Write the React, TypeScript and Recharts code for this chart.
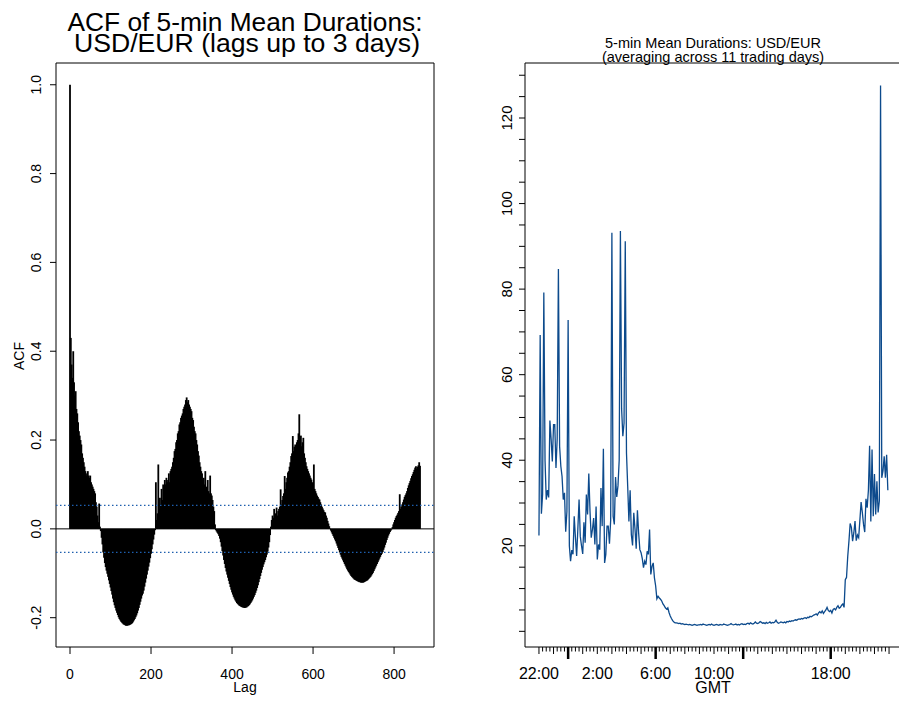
import { BarChart, Bar, LineChart, Line, XAxis, YAxis, ReferenceLine, ReferenceArea } from "recharts";

// ACF of 5-min mean durations, every 2nd lag
const acfDecay = [
  1.0, 0.43, 0.37, 0.34, 0.4, 0.33, 0.3, 0.31, 0.27, 0.26, 0.24, 0.22, 0.21, 0.2, 0.19, 0.17, 0.16, 0.15, 0.14,
  0.13, 0.12, 0.125, 0.13, 0.12, 0.115, 0.12, 0.105, 0.1, 0.095, 0.09, 0.085, 0.08, 0.06, 0.05, 0.03, 0.015, 0.057,
  0.005,
];
const acfTrough1 = [
  -0.005, -0.02, -0.035, -0.053, -0.065, -0.077, -0.086, -0.094, -0.101, -0.108,
  -0.116, -0.124, -0.132, -0.14, -0.148, -0.157, -0.165, -0.172, -0.178, -0.184,
  -0.189, -0.194, -0.199, -0.203, -0.206, -0.209, -0.211, -0.213, -0.215, -0.216,
  -0.217, -0.218, -0.218, -0.218, -0.217, -0.217, -0.216, -0.215, -0.214, -0.212,
  -0.209, -0.206, -0.203, -0.199, -0.195, -0.19, -0.184, -0.178, -0.171, -0.164,
  -0.157, -0.15, -0.146, -0.139, -0.13, -0.121, -0.112, -0.103, -0.094, -0.085,
  -0.076, -0.066, -0.056, -0.046, -0.035, -0.024, -0.013, -0.003,
];
const acfHump2 = [
  0.105, 0.02, 0.035, 0.145, 0.045, 0.07, 0.055, 0.09, 0.065, 0.1,
  0.085, 0.11, 0.1, 0.115, 0.105, 0.11, 0.125, 0.105, 0.13, 0.135,
  0.14, 0.15, 0.16, 0.175, 0.18, 0.195, 0.2, 0.215, 0.22, 0.235,
  0.24, 0.25, 0.255, 0.26, 0.27, 0.275, 0.28, 0.29, 0.296, 0.285,
  0.29, 0.28, 0.275, 0.27, 0.265, 0.25, 0.245, 0.23, 0.22, 0.215,
  0.2, 0.19, 0.175, 0.165, 0.15, 0.14, 0.13, 0.125, 0.11, 0.115,
  0.1, 0.13, 0.095, 0.09, 0.11, 0.085, 0.08, 0.12, 0.08, 0.075,
  0.065, 0.05, 0.04, 0.01,
];
const acfTrough2 = [
  -0.003, -0.006, -0.009, -0.012, -0.016, -0.022, -0.03, -0.04, -0.05, -0.06,
  -0.07, -0.079, -0.088, -0.096, -0.103, -0.11, -0.117, -0.124, -0.131, -0.137,
  -0.143, -0.148, -0.153, -0.157, -0.161, -0.164, -0.167, -0.169, -0.171, -0.173,
  -0.174, -0.175, -0.176, -0.177, -0.177, -0.178, -0.178, -0.177, -0.177, -0.175,
  -0.174, -0.172, -0.17, -0.167, -0.164, -0.161, -0.157, -0.153, -0.149, -0.144,
  -0.139, -0.133, -0.127, -0.12, -0.113, -0.106, -0.099, -0.092, -0.086, -0.08,
  -0.075, -0.07, -0.064, -0.058, -0.051, -0.042, -0.03, -0.014,
];
const acfHump3 = [
  0.005, 0.02, 0.03, 0.025, 0.045, 0.03, 0.035, 0.048, 0.03, 0.04,
  0.045, 0.05, 0.089, 0.055, 0.065, 0.074, 0.08, 0.119, 0.09, 0.105,
  0.115, 0.127, 0.13, 0.14, 0.15, 0.164, 0.17, 0.209, 0.175, 0.185,
  0.19, 0.18, 0.195, 0.2, 0.215, 0.258, 0.2, 0.21, 0.186, 0.195,
  0.205, 0.17, 0.16, 0.15, 0.141, 0.135, 0.13, 0.125, 0.12, 0.115,
  0.111, 0.105, 0.1, 0.145, 0.09, 0.085, 0.08, 0.075, 0.072, 0.068,
  0.066, 0.06, 0.055, 0.05, 0.046, 0.042, 0.038, 0.037, 0.03, 0.025,
  0.018, 0.012, 0.006, 0.001,
];
const acfTrough3 = [
  -0.004, -0.008, -0.012, -0.016, -0.02, -0.024, -0.028, -0.033, -0.038, -0.043,
  -0.048, -0.053, -0.058, -0.063, -0.067, -0.071, -0.075, -0.079, -0.083, -0.087,
  -0.091, -0.094, -0.097, -0.1, -0.103, -0.106, -0.108, -0.11, -0.112, -0.114,
  -0.115, -0.116, -0.117, -0.118, -0.119, -0.12, -0.12, -0.121, -0.121, -0.121,
  -0.121, -0.12, -0.119, -0.118, -0.117, -0.116, -0.114, -0.112, -0.11, -0.108,
  -0.105, -0.102, -0.099, -0.095, -0.091, -0.087, -0.083, -0.079, -0.075, -0.071,
  -0.067, -0.063, -0.059, -0.056, -0.052, -0.047, -0.042, -0.036, -0.031, -0.025,
  -0.02, -0.015, -0.011, -0.007, -0.004, -0.001,
];
const acfHump4 = [
  0.004, 0.01, 0.015, 0.02, 0.025, 0.029, 0.032, 0.036, 0.04, 0.078,
  0.045, 0.05, 0.055, 0.06, 0.066, 0.072, 0.076, 0.08, 0.085, 0.092,
  0.098, 0.103, 0.108, 0.114, 0.119, 0.123, 0.128, 0.133, 0.138, 0.141,
  0.135, 0.14, 0.143, 0.15, 0.142,
];
const LAG_STEP = 2;
const acfValues = [...acfDecay, ...acfTrough1, ...acfHump2, ...acfTrough2, ...acfHump3, ...acfTrough3, ...acfHump4];
const acfData = acfValues.map((acf, i) => ({ lag: i * LAG_STEP, acf }));
const acfTicksX = [0, 200, 400, 600, 800];
const acfTicksY = [-0.2, 0, 0.2, 0.4, 0.6, 0.8, 1.0];
const acfBand = 0.053;

// 5-min mean durations (seconds), 22:00 GMT onwards
const durOvernight = [
  22.4, 69.3, 27.5, 32.0, 79.2, 40.0, 30.8, 33.0, 31.3, 49.3,
  45.0, 39.7, 48.3, 48.3, 38.2, 45.0, 84.7, 43.2, 38.6, 36.2,
  30.8, 32.4, 23.3, 28.0, 72.8, 20.0, 16.4, 19.0, 18.0, 26.9,
  22.0, 17.6, 24.0, 30.8, 22.2, 20.0, 18.1, 25.5, 20.7, 32.0,
  27.3, 36.9, 28.1, 21.9, 23.8, 26.5, 20.3, 29.2, 16.8, 20.3,
  19.1, 33.5, 24.6, 42.7, 16.0, 18.0, 24.6, 24.6, 20.5, 26.0,
];
const durAsia = [
  93.2, 26.9, 25.0, 36.1, 31.4, 34.0, 40.0, 93.6, 52.0, 45.6,
  48.7, 91.2, 41.7, 33.9, 25.7, 33.0, 22.6, 20.1, 27.7, 24.0,
  19.3, 28.3, 23.0, 19.1, 18.4, 17.0, 14.9, 16.4, 15.6, 18.7,
  18.0, 23.8, 13.3, 15.2, 16.0, 12.5, 10.6, 7.6, 8.2, 7.8,
  7.5, 7.1, 6.4, 6.0, 5.5, 5.2, 5.5, 4.4, 3.6, 3.0,
  2.5, 2.2, 2.0, 2.0,
];
const durDaytime = [
  1.9, 1.8, 1.9, 1.7, 1.8, 1.7, 1.6, 1.7, 1.6, 1.5,
  1.6, 1.5, 1.4, 1.5, 1.6, 1.5, 1.4, 1.5, 1.5, 1.6,
  1.5, 1.7, 1.6, 1.5, 1.4, 1.5, 1.6, 1.5, 1.7, 1.5,
  1.4, 1.5, 1.6, 1.5, 1.4, 1.6, 1.5, 1.5, 1.7, 1.6,
  1.5, 1.4, 1.5, 1.6, 1.8, 1.6, 1.5, 1.6, 1.7, 1.5,
  1.6, 1.5, 1.7, 1.8, 1.6, 1.7, 1.6, 1.8, 1.9, 1.7,
  2.0, 1.8, 1.7, 1.9, 2.2, 1.9, 1.8, 2.0, 2.3, 2.1,
  1.9, 2.0, 1.8, 2.1, 1.9, 2.0, 2.2, 1.9, 2.1, 2.0,
  2.2, 2.6, 2.1, 1.9, 2.0, 2.2, 2.1, 2.0, 2.2, 2.0,
  2.3, 2.2, 2.4, 2.3, 2.5, 2.4, 2.6, 2.7, 2.6, 2.8,
  2.9, 2.8, 3.0, 2.9, 3.1, 3.2, 3.0, 3.3, 3.2, 3.5,
  3.4, 3.6, 3.8, 3.9, 4.1, 3.8, 4.3, 4.6, 4.3, 4.8,
  4.2, 4.6, 5.0, 5.6, 4.9, 4.6, 4.9, 4.3, 5.1, 5.3,
  5.0, 5.6, 6.0, 5.4, 5.6, 6.1, 6.4, 5.6,
];
const durEvening = [
  12.1, 12.6, 17.5, 21.1, 25.2, 24.3, 21.1, 23.0, 25.8, 21.2,
  22.5, 21.9, 26.0, 30.2, 27.8, 25.0, 23.2, 31.0, 28.9, 33.0,
  43.4, 25.7, 42.5, 26.9, 36.8, 27.3, 35.1, 27.8, 30.5, 127.6,
  35.9, 37.5, 40.9, 35.9, 41.3, 33.0,
];
const durValues = [...durOvernight, ...durAsia, ...durDaytime, ...durEvening];
const durData = durValues.map((dur, i) => ({ min: i * 5, dur }));

// x axis: minutes after 22:00 GMT
const gmtTicks = Array.from({ length: 97 }, (_, i) => i * 15);
const gmtLabelMins = [0, 240, 480, 720, 1200];
const gmtLabelText = ["22:00", "2:00", "6:00", "10:00", "18:00"];
const gmtMajorMins = [120, 480, 840, 1200];
const durTicksY = Array.from({ length: 27 }, (_, i) => i * 5);
const durLabelsY = [20, 40, 60, 80, 100, 120];

const FONT = '"Liberation Sans", Arial, Helvetica, sans-serif';
const BLUE = "#0c4a8c";

// recharts squeezes bars to the band on a number axis, so draw each acf spike at a fixed width
function AcfSpike({ x, y, width, height }: any) {
  if (x == null || y == null) return <g />;
  const top = Math.min(y, y + height);
  const h = Math.abs(height);
  return <rect x={x + width / 2 - 0.9} y={top} width={1.8} height={h} fill="#000" />;
}

function AcfYTick({ x, y, payload }: any) {
  const tx = x - 9;
  return (
    <text x={tx} y={y} transform={`rotate(-90, ${tx}, ${y})`} textAnchor="middle" fontSize={14} fill="#000">
      {Number(payload.value).toFixed(1)}
    </text>
  );
}

function AcfXTick({ x, y, payload }: any) {
  return (
    <text x={x} y={y + 25} textAnchor="middle" fontSize={14} fill="#000">
      {payload.value}
    </text>
  );
}

function GmtTick({ x, y, payload }: any) {
  const v = payload.value;
  const major = gmtMajorMins.includes(v);
  const len = major ? 12 : v % 60 === 0 ? 7 : 4.5;
  const li = gmtLabelMins.indexOf(v);
  return (
    <g>
      <line x1={x} x2={x} y1={y} y2={y + len} stroke="#000" strokeWidth={major ? 2.5 : 1} />
      {li >= 0 && (
        <text x={x} y={y + 32} textAnchor="middle" fontSize={16} fill="#000">
          {gmtLabelText[li]}
        </text>
      )}
    </g>
  );
}

function DurYTick({ x, y, payload }: any) {
  if (!durLabelsY.includes(payload.value)) return <g />;
  const tx = x - 7;
  return (
    <text x={tx} y={y} transform={`rotate(-90, ${tx}, ${y})`} textAnchor="middle" fontSize={15} fill="#000">
      {payload.value}
    </text>
  );
}

export default function App() {
  return (
    <div
      style={{
        position: "fixed",
        left: 0,
        top: 0,
        width: 899,
        height: 704,
        overflow: "hidden",
        background: "#fff",
        fontFamily: FONT,
      }}
    >
      <div style={{ position: "absolute", left: 0, top: 0 }}>
        <BarChart width={450} height={704} data={acfData} margin={{ top: 63, right: 16, bottom: 0, left: 0 }}>
          <XAxis
            dataKey="lag"
            type="number"
            domain={[-34.56, 898.56]}
            allowDataOverflow
            ticks={acfTicksX}
            interval={0}
            height={57}
            axisLine={false}
            tickLine={{ stroke: "#000" }}
            tickSize={7}
            tickMargin={0}
            tick={AcfXTick}
          />
          <YAxis
            type="number"
            domain={[-0.266, 1.049]}
            allowDataOverflow
            ticks={acfTicksY}
            interval={0}
            width={56}
            axisLine={false}
            tickLine={{ stroke: "#000" }}
            tickSize={6}
            tickMargin={0}
            tick={AcfYTick}
          />
          <ReferenceArea
            x1={-34.56}
            x2={898.56}
            y1={-0.266}
            y2={1.049}
            fill="none"
            stroke="#000"
            strokeWidth={1}
            ifOverflow="visible"
          />
          <Bar dataKey="acf" fill="#000" shape={AcfSpike} isAnimationActive={false} />
          <ReferenceLine y={0} stroke="#000" strokeWidth={1} />
          <ReferenceLine y={acfBand} stroke="#1f5fae" strokeWidth={1.2} strokeDasharray="1.5 2.5" />
          <ReferenceLine y={-acfBand} stroke="#1f5fae" strokeWidth={1.2} strokeDasharray="1.5 2.5" />
        </BarChart>
      </div>

      <div style={{ position: "absolute", left: 470, top: 0 }}>
        <LineChart width={440} height={704} data={durData} margin={{ top: 63, right: 8.2, bottom: 0, left: 0 }}>
          <XAxis
            dataKey="min"
            type="number"
            domain={[-57.4, 1492.4]}
            allowDataOverflow
            ticks={gmtTicks}
            interval={0}
            height={57}
            axisLine={false}
            tickLine={false}
            tickSize={0}
            tickMargin={0}
            tick={GmtTick}
          />
          <YAxis
            type="number"
            domain={[-3.66, 132.86]}
            allowDataOverflow
            ticks={durTicksY}
            interval={0}
            width={55}
            axisLine={false}
            tickLine={{ stroke: "#000" }}
            tickSize={6}
            tickMargin={0}
            tick={DurYTick}
          />
          <ReferenceArea
            x1={-57.4}
            x2={1492.4}
            y1={-3.66}
            y2={132.86}
            fill="none"
            stroke="#000"
            strokeWidth={1}
            ifOverflow="visible"
          />
          <Line
            type="linear"
            dataKey="dur"
            stroke={BLUE}
            strokeWidth={1.3}
            dot={false}
            isAnimationActive={false}
          />
        </LineChart>
      </div>

      <svg width={899} height={704} style={{ position: "absolute", left: 0, top: 0, pointerEvents: "none" }}>
        <text x={245} y={31} textAnchor="middle" fontSize={25} textLength={355} lengthAdjust="spacingAndGlyphs" fill="#000">
          ACF of 5-min Mean Durations:
        </text>
        <text x={247} y={52} textAnchor="middle" fontSize={25} textLength={346} lengthAdjust="spacingAndGlyphs" fill="#000">
          USD/EUR (lags up to 3 days)
        </text>
        <text x={245} y={692} textAnchor="middle" fontSize={14} fill="#000">
          Lag
        </text>
        <text x={24} y={356} transform="rotate(-90, 24, 356)" textAnchor="middle" fontSize={14} fill="#000">
          ACF
        </text>
        <text x={713} y={48} textAnchor="middle" fontSize={14.5} fill="#000">
          5-min Mean Durations: USD/EUR
        </text>
        <text x={713} y={62} textAnchor="middle" fontSize={14.5} fill="#000">
          (averaging across 11 trading days)
        </text>
        <text x={713} y={693} textAnchor="middle" fontSize={16} fill="#000">
          GMT
        </text>
      </svg>
    </div>
  );
}
